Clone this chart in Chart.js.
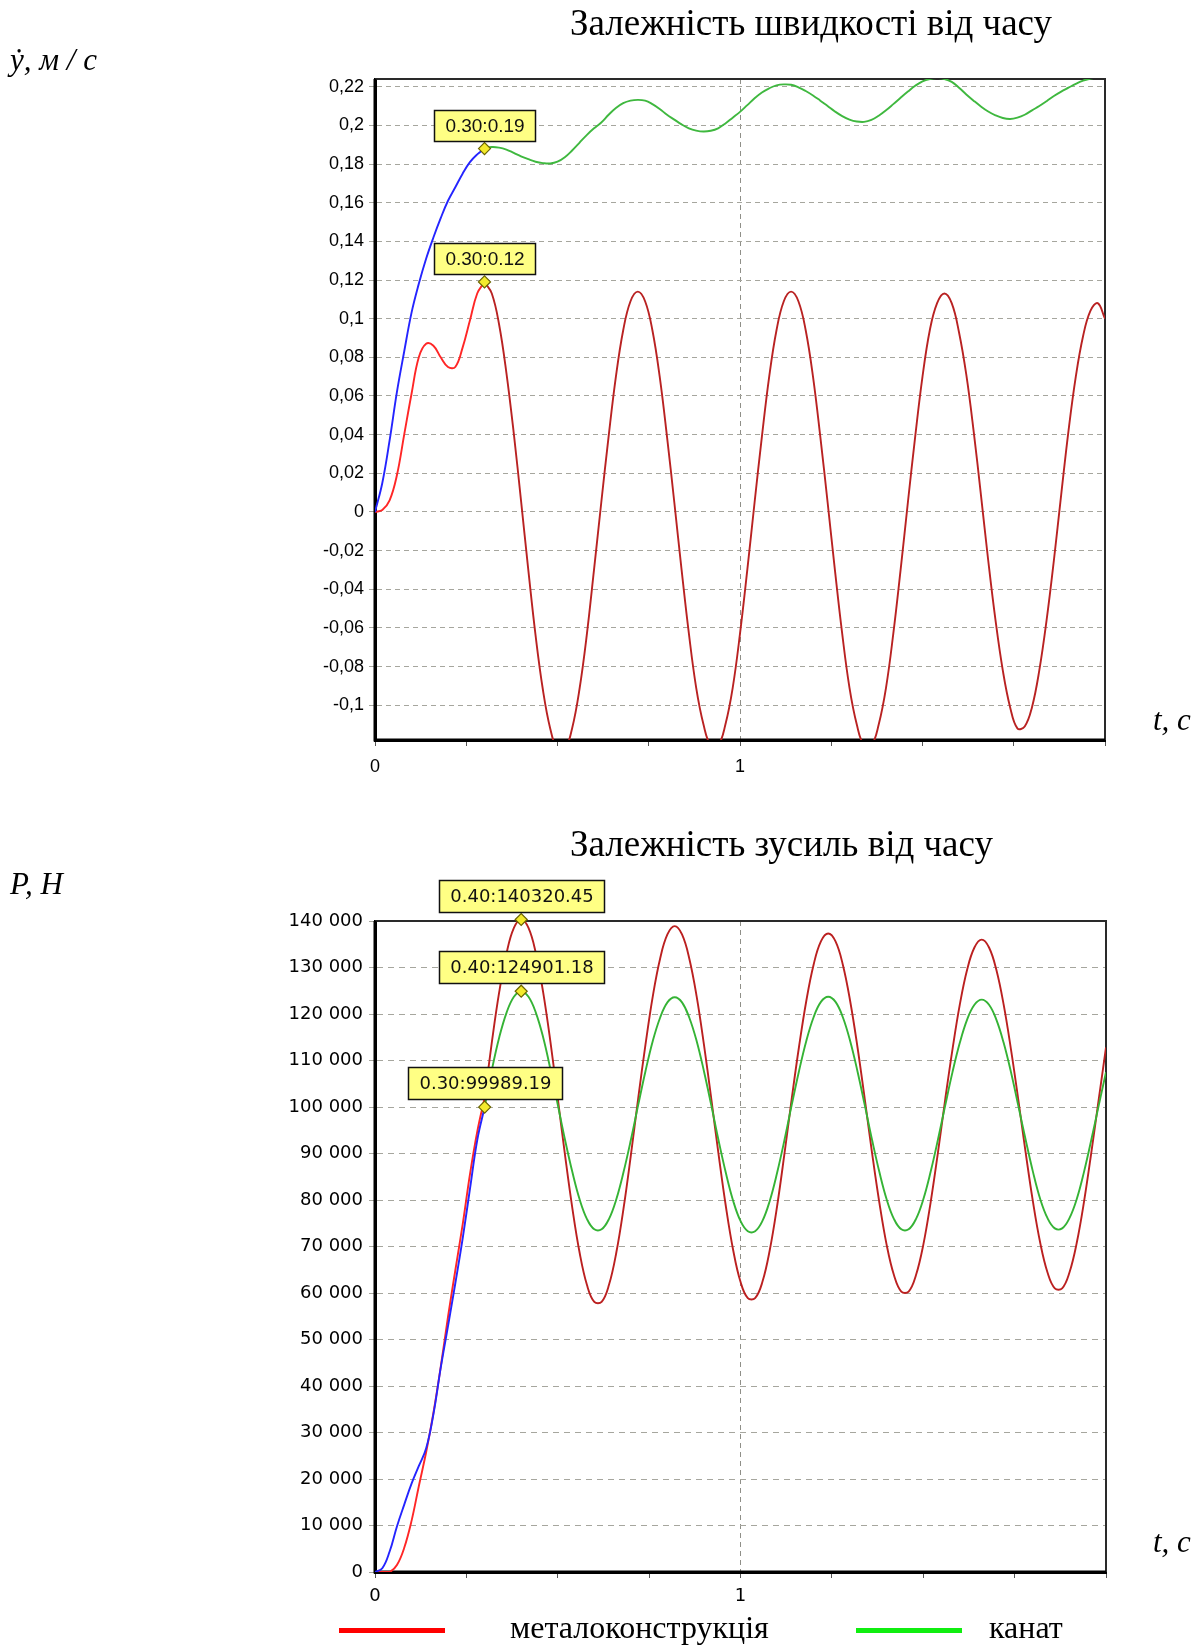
<!DOCTYPE html>
<html lang="uk">
<head>
<meta charset="UTF-8">
<title>Залежність швидкості та зусиль від часу</title>
<script src="https://cdn.jsdelivr.net/npm/chart.js"></script>
<style>
    body { margin: 0; background: #fff; }
    #page { position: relative; width: 1202px; height: 1645px; overflow: hidden; }
    canvas { position: absolute; left: 0; }
    .title { position: absolute; font-family: "Liberation Serif", "Times New Roman", serif; font-size: 37px; line-height: 1; white-space: nowrap; color: #000; }
    .unit { position: absolute; font-family: "Liberation Serif", "Times New Roman", serif; font-style: italic; font-size: 31px; line-height: 1; white-space: nowrap; color: #000; }
    .legend-line { position: absolute; height: 5px; }
    .legend-text { position: absolute; font-family: "Liberation Serif", "Times New Roman", serif; font-size: 32px; line-height: 1; white-space: nowrap; color: #000; }
</style>
</head>
<body>
<div id="page">
    <canvas id="speedChart" width="1202" height="800" style="top:0"></canvas>
    <canvas id="forceChart" width="1202" height="845" style="top:800px"></canvas>

    <div class="title" style="left:570px; top:4px">Залежність швидкості від часу</div>
    <div class="unit" style="left:10px; top:44px">ẏ, м / с</div>
    <div class="unit" style="left:1153px; top:704px">t, с</div>

    <div class="title" style="left:570px; top:825px">Залежність зусиль від часу</div>
    <div class="unit" style="left:10px; top:868px">P, Н</div>
    <div class="unit" style="left:1153px; top:1526px">t, с</div>

    <div class="legend-line" style="left:339px; top:1628px; width:106px; background:#ff0000"></div>
    <div class="legend-text" style="left:510px; top:1611px">металоконструкція</div>
    <div class="legend-line" style="left:856px; top:1628px; width:106px; background:#10ee10"></div>
    <div class="legend-text" style="left:989px; top:1611px">канат</div>
</div>

<script>
// час, с
const tEarly = [0.00, 0.02, 0.04, 0.06, 0.08, 0.10, 0.12, 0.14, 0.16, 0.18, 0.20, 0.22, 0.24, 0.26, 0.28, 0.30];
const tLate = [
    0.30, 0.32, 0.34, 0.36, 0.38,
    0.40, 0.42, 0.44, 0.46, 0.48, 0.50, 0.52, 0.54, 0.56, 0.58,
    0.60, 0.62, 0.64, 0.66, 0.68, 0.70, 0.72, 0.74, 0.76, 0.78,
    0.80, 0.82, 0.84, 0.86, 0.88, 0.90, 0.92, 0.94, 0.96, 0.98,
    1.00, 1.02, 1.04, 1.06, 1.08, 1.10, 1.12, 1.14, 1.16, 1.18,
    1.20, 1.22, 1.24, 1.26, 1.28, 1.30, 1.32, 1.34, 1.36, 1.38,
    1.40, 1.42, 1.44, 1.46, 1.48, 1.50, 1.52, 1.54, 1.56, 1.58,
    1.60, 1.62, 1.64, 1.66, 1.68, 1.70, 1.72, 1.74, 1.76, 1.78,
    1.80, 1.82, 1.84, 1.86, 1.88, 1.90, 1.92, 1.94, 1.96, 1.98,
    2.00
];

// швидкість, м/с
const speedBlue = [0.000, 0.015, 0.037, 0.062, 0.083, 0.103, 0.118, 0.131, 0.142, 0.152, 0.161, 0.168, 0.175, 0.181, 0.185, 0.188];
const speedRedEarly = [0.000, 0.001, 0.006, 0.019, 0.040, 0.061, 0.080, 0.087, 0.086, 0.080, 0.075, 0.075, 0.085, 0.099, 0.113, 0.119];
const speedRedLate = [
    0.119, 0.113, 0.097, 0.072, 0.041,
    0.006, -0.030, -0.064, -0.092, -0.112, -0.123, -0.123, -0.112, -0.092, -0.064,
    -0.030, 0.005, 0.039, 0.070, 0.094, 0.109, 0.114, 0.109, 0.094, 0.070,
    0.039, 0.005, -0.030, -0.063, -0.091, -0.110, -0.121, -0.121, -0.110, -0.091,
    -0.063, -0.030, 0.005, 0.039, 0.070, 0.094, 0.109, 0.114, 0.109, 0.094,
    0.070, 0.039, 0.005, -0.030, -0.063, -0.091, -0.110, -0.121, -0.121, -0.110,
    -0.091, -0.063, -0.030, 0.005, 0.039, 0.070, 0.094, 0.108, 0.113, 0.108,
    0.093, 0.071, 0.042, 0.009, -0.025, -0.056, -0.082, -0.101, -0.112, -0.111,
    -0.101, -0.082, -0.056, -0.025, 0.009, 0.042, 0.070, 0.091, 0.104, 0.108,
    0.100
];
const speedGreen = [
    0.1880, 0.1888, 0.1885, 0.1875, 0.1858,
    0.1840, 0.1825, 0.1812, 0.1805, 0.1803, 0.1812, 0.1835, 0.1870, 0.1910, 0.1950,
    0.1985, 0.2015, 0.2055, 0.2090, 0.2115, 0.2128, 0.2132, 0.2128, 0.2110, 0.2085,
    0.2055, 0.2030, 0.2005, 0.1985, 0.1973, 0.1968, 0.1972, 0.1985, 0.2010, 0.2040,
    0.2070, 0.2105, 0.2140, 0.2170, 0.2192, 0.2207, 0.2212, 0.2210, 0.2197, 0.2178,
    0.2155, 0.2128, 0.2100, 0.2072, 0.2048, 0.2030, 0.2020, 0.2018, 0.2028, 0.2050,
    0.2078, 0.2110, 0.2143, 0.2175, 0.2205, 0.2228, 0.2240, 0.2245, 0.2240, 0.2225,
    0.2195, 0.2160, 0.2128, 0.2098, 0.2072, 0.2052, 0.2038, 0.2033, 0.2040, 0.2055,
    0.2078, 0.2100, 0.2125, 0.2152, 0.2175, 0.2195, 0.2215, 0.2232, 0.2242, 0.2248,
    0.2250
];

// зусилля, Н
const forceBlue = [0, 800, 4400, 9800, 14500, 19000, 22800, 26600, 34000, 44000, 53000, 62200, 71800, 82500, 93000, 99989.19];
const forceRedEarly = [0, 0, 0, 1500, 5200, 11000, 18500, 25800, 34300, 44200, 55000, 65000, 74800, 85600, 94800, 102000];
const forceRedLate = [
    102000, 114100, 124800, 133100, 138500,
    140320.45, 138500, 133100, 124700, 114000, 101900, 89600, 78200, 68600, 61700,
    58100, 58100, 61700, 68600, 78200, 89600, 101800, 113400, 123800, 131900,
    137100, 138900, 137100, 131900, 123800, 113400, 101800, 89800, 78600, 69200,
    62400, 58900, 58900, 62400, 69200, 78600, 89800, 101700, 112900, 122800,
    130600, 135600, 137300, 135600, 130600, 122800, 112900, 101700, 90100, 79400,
    70300, 63800, 60300, 60300, 63800, 70300, 79400, 90100, 101600, 112400,
    122000, 129500, 134300, 136000, 134300, 129500, 122000, 112400, 101600, 90300,
    79700, 70800, 64400, 61000, 61000, 64400, 70800, 79700, 90300, 101600,
    112800
];
const forceGreen = [
    99989.19, 108100, 115000, 120300, 123700,
    124901.18, 123700, 120300, 115000, 108100, 100500, 92900, 86000, 80100, 75900,
    73700, 73700, 75900, 80100, 86000, 92900, 100400, 107700, 114200, 119200,
    122500, 123600, 122500, 119200, 114200, 107700, 100400, 92800, 85800, 79800,
    75500, 73300, 73300, 75500, 79800, 85800, 92800, 100400, 107700, 114200,
    119300, 122600, 123700, 122600, 119300, 114200, 107700, 100400, 92900, 86000,
    80100, 75900, 73700, 73700, 75900, 80100, 86000, 92900, 100300, 107500,
    113800, 118800, 122000, 123100, 122000, 118800, 113800, 107500, 100300, 93000,
    86100, 80200, 76100, 73900, 73900, 76100, 80200, 86100, 93000, 100300,
    107500
];

// позначені точки
const speedMarkT = [0.30, 0.30];
const speedMarkV = [0.188, 0.119];
const speedMarkText = ["0.30:0.19", "0.30:0.12"];
const forceMarkT = [0.40, 0.40, 0.30];
const forceMarkV = [140320.45, 124901.18, 99989.19];
const forceMarkText = ["0.40:140320.45", "0.40:124901.18", "0.30:99989.19"];

const xLabelValues = [0, 1];

const toPoints = (xs, ys) => xs.map((x, i) => ({ x: x, y: ys[i] }));

function line(data, color, order) {
    return {
        data: data,
        borderColor: color,
        borderWidth: 1.9,
        pointRadius: 0,
        fill: false,
        tension: 0.4,
        clip: 0,
        order: order
    };
}

function markers(data) {
    return {
        data: data,
        showLine: false,
        pointStyle: "rectRot",
        pointRadius: 6,
        pointBackgroundColor: "#f4ea2c",
        pointBorderColor: "#6a6400",
        pointBorderWidth: 1.2,
        clip: false,
        order: 0
    };
}

// рамка графіка
const framePlugin = {
    id: "frame",
    beforeDatasetsDraw(chart) {
        const a = chart.chartArea, ctx = chart.ctx;
        ctx.save();
        ctx.strokeStyle = "#2a2a2a";
        ctx.lineWidth = 2;
        ctx.beginPath();
        ctx.moveTo(a.left, a.top);
        ctx.lineTo(a.right, a.top);
        ctx.lineTo(a.right, a.bottom);
        ctx.stroke();
        ctx.strokeStyle = "#000";
        ctx.lineWidth = 3;
        ctx.beginPath();
        ctx.moveTo(a.left, a.top);
        ctx.lineTo(a.left, a.bottom);
        ctx.lineTo(a.right, a.bottom);
        ctx.stroke();
        ctx.restore();
    }
};

// жовті підписи над позначеними точками
const calloutPlugin = {
    id: "callouts",
    afterDraw(chart, args, opts) {
        const meta = chart.getDatasetMeta(opts.datasetIndex);
        const ctx = chart.ctx;
        ctx.save();
        ctx.font = opts.font;
        meta.data.forEach((pt, i) => {
            const text = opts.labels[i];
            const w = Math.round(ctx.measureText(text).width + 2 * opts.padX);
            const h = opts.height;
            const x0 = Math.round(pt.x - w / 2) + 0.5;
            const y0 = Math.round(pt.y - opts.gap - h) + 0.5;
            ctx.fillStyle = "#ffff84";
            ctx.fillRect(x0, y0, w, h);
            ctx.strokeStyle = "#111";
            ctx.lineWidth = 1.5;
            ctx.strokeRect(x0, y0, w, h);
            ctx.fillStyle = "#111";
            ctx.textAlign = "center";
            ctx.textBaseline = "middle";
            ctx.fillText(text, x0 + w / 2, y0 + h / 2 + 1);
        });
        ctx.restore();
    }
};

function makeOptions(o) {
    return {
        responsive: false,
        animation: false,
        events: [],
        layout: { padding: o.padding },
        plugins: {
            legend: { display: false },
            tooltip: { enabled: false },
            callouts: o.callouts
        },
        scales: {
            x: {
                type: "linear",
                min: 0,
                max: 2,
                afterFit: (s) => { s.height = 40; },
                ticks: {
                    stepSize: 0.25,
                    autoSkip: false,
                    maxRotation: 0,
                    padding: o.xPad,
                    color: "#000",
                    font: o.tickFont,
                    callback: (v) => xLabelValues.includes(v) ? String(v) : ""
                },
                grid: {
                    color: (c) => (c.tick && c.tick.value === 1) ? "#8f8f88" : "rgba(0,0,0,0)",
                    tickColor: "#555",
                    tickLength: 6,
                    lineWidth: 1
                },
                border: { display: true, color: "#000", width: 3, dash: [5, 4] }
            },
            y: {
                min: o.yMin,
                max: o.yMax,
                afterFit: (s) => { s.width = 100; },
                ticks: {
                    stepSize: o.yStep,
                    includeBounds: false,
                    autoSkip: false,
                    padding: o.yPad,
                    color: "#000",
                    font: o.tickFont,
                    callback: o.yFormat
                },
                grid: {
                    color: "#a6a69e",
                    tickColor: "#a6a69e",
                    tickLength: 6,
                    lineWidth: 1
                },
                border: { display: true, color: "#000", width: 3, dash: o.dash }
            }
        }
    };
}

new Chart(document.getElementById("speedChart"), {
    type: "line",
    data: {
        datasets: [
            markers(toPoints(speedMarkT, speedMarkV)),
            line(toPoints(tEarly, speedBlue), "#2424ff", 1),
            line(toPoints(tLate, speedGreen), "#3fb83f", 2),
            line(toPoints(tLate, speedRedLate), "#b92222", 3),
            line(toPoints(tEarly, speedRedEarly), "#ff2626", 4)
        ]
    },
    options: makeOptions({
        padding: { left: 275, right: 97, top: 79, bottom: 20 },
        yMin: -0.118,
        yMax: 0.224,
        yStep: 0.02,
        yPad: 5,
        xPad: 10,
        dash: [5, 4],
        tickFont: { family: "'Liberation Sans', Arial, sans-serif", size: 18 },
        yFormat: (v) => String(Math.round(v * 100) / 100).replace(".", ","),
        callouts: { datasetIndex: 0, labels: speedMarkText, font: "19px 'Liberation Sans', Arial, sans-serif", padX: 11, height: 31, gap: 8 }
    }),
    plugins: [framePlugin, calloutPlugin]
});

new Chart(document.getElementById("forceChart"), {
    type: "line",
    data: {
        datasets: [
            markers(toPoints(forceMarkT, forceMarkV)),
            line(toPoints(tEarly, forceBlue), "#2424ff", 1),
            line(toPoints(tEarly, forceRedEarly), "#ff2626", 2),
            line(toPoints(tLate, forceGreen), "#35b335", 3),
            line(toPoints(tLate, forceRedLate), "#bb2020", 4)
        ]
    },
    options: makeOptions({
        padding: { left: 275, right: 96, top: 121, bottom: 33 },
        yMin: 0,
        yMax: 140000,
        yStep: 10000,
        yPad: 6,
        xPad: 8,
        dash: [6, 5],
        tickFont: { family: "'DejaVu Sans', sans-serif", size: 18 },
        yFormat: (v) => String(v).replace(/\B(?=(\d{3})+(?!\d))/g, " "),
        callouts: { datasetIndex: 0, labels: forceMarkText, font: "18px 'DejaVu Sans', sans-serif", padX: 11, height: 32, gap: 8 }
    }),
    plugins: [framePlugin, calloutPlugin]
});
</script>
</body>
</html>
